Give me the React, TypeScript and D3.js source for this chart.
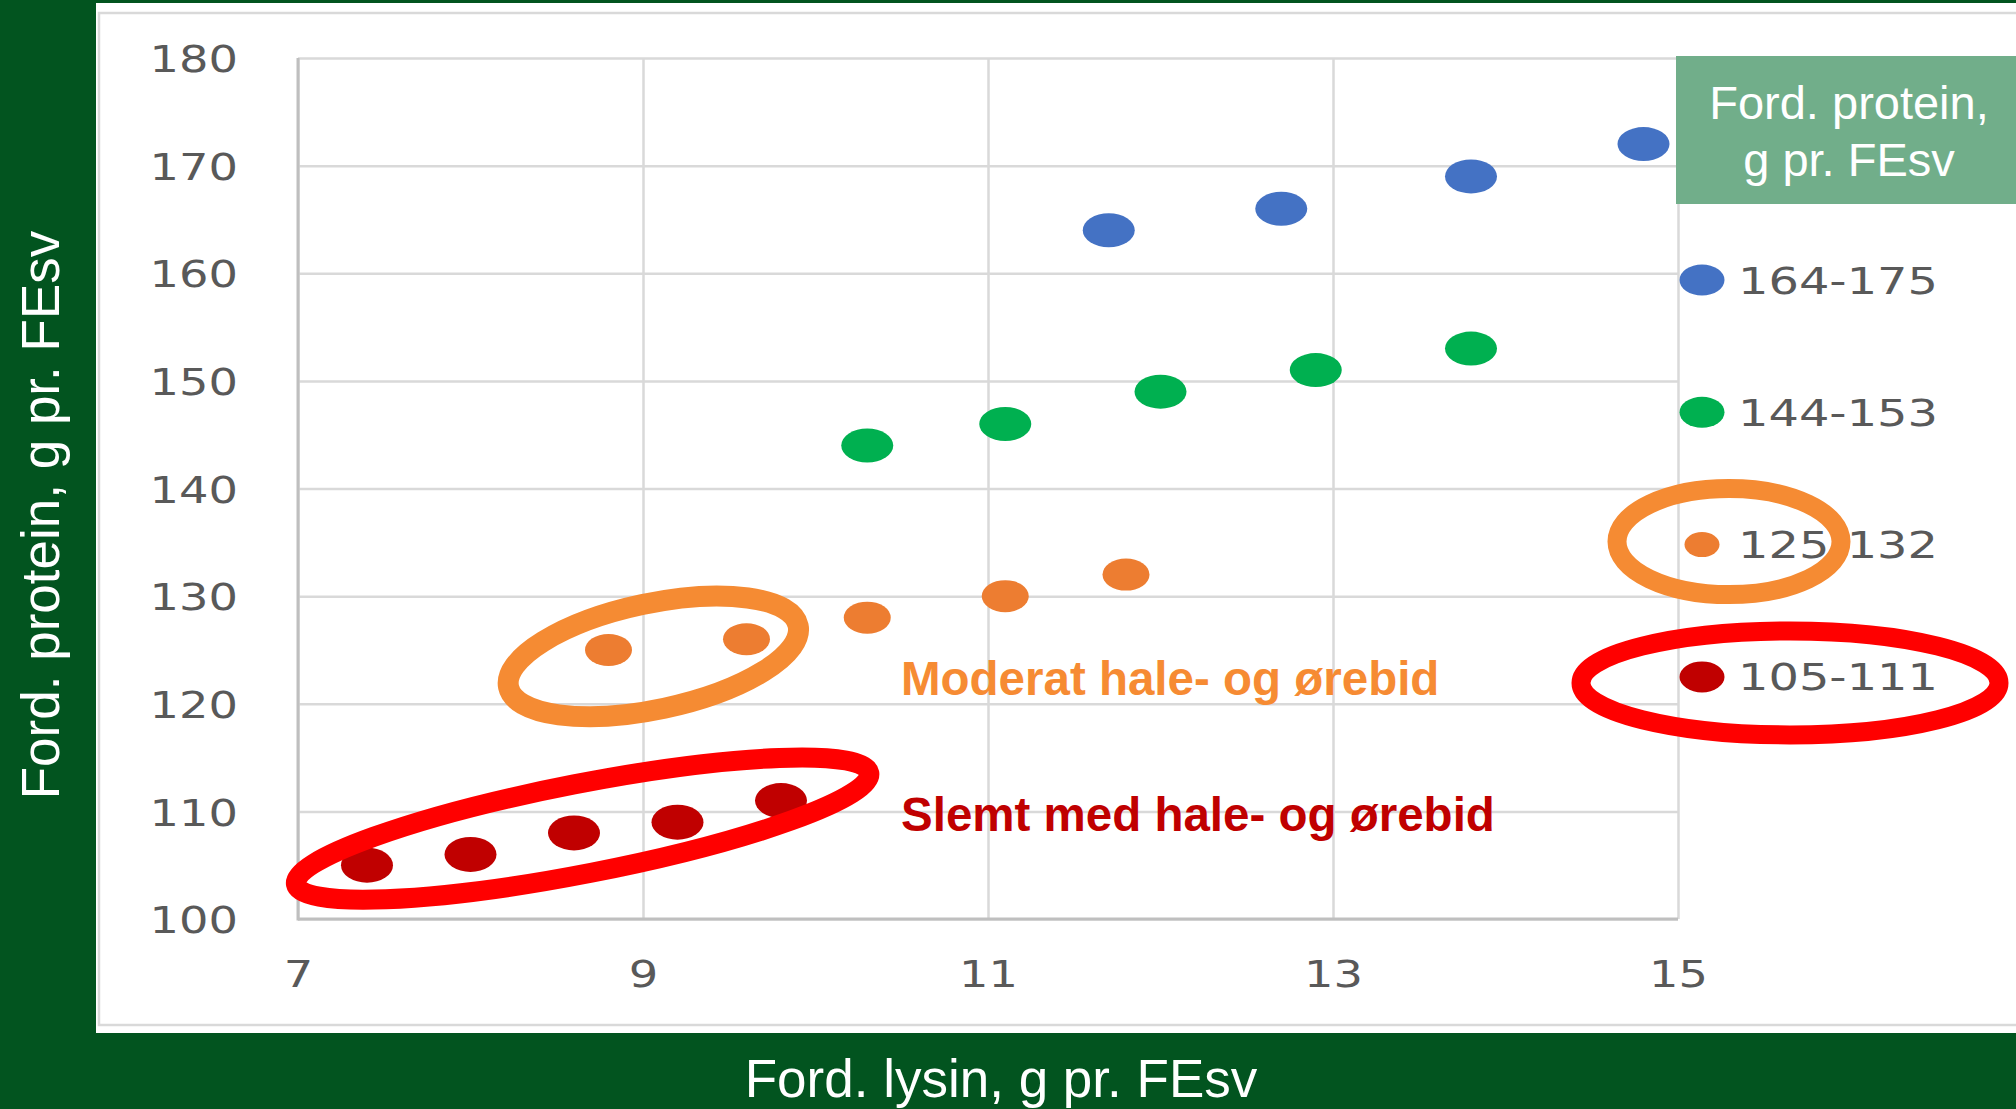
import React, { useRef, useEffect } from 'react';
import * as d3 from 'd3';

// data
const seriesLabels = ['164-175', '144-153', '125-132', '105-111'];
const seriesColors = ['#4472C4', '#00B050', '#ED7D31', '#C00000'];

const blueLysin = [11.7, 12.7, 13.8, 14.8];
const blueProtein = [164, 166, 169, 172];
const greenLysin = [10.3, 11.1, 12.0, 12.9, 13.8];
const greenProtein = [144, 146, 149, 151, 153];
const orangeLysin = [8.8, 9.6, 10.3, 11.1, 11.8];
const orangeProtein = [125, 126, 128, 130, 132];
const redLysin = [7.4, 8.0, 8.6, 9.2, 9.8];
const redProtein = [105, 106, 108, 109, 111];

const xTicks = [7, 9, 11, 13, 15];
const yTicks = [100, 110, 120, 130, 140, 150, 160, 170, 180];

const legendTitle = ['Ford. protein,', 'g pr. FEsv'];
const noteTexts = ['Moderat hale- og ørebid', 'Slemt med hale- og ørebid'];
// group ring centres, in data units (lysin, protein)
const ringLysin = [9.06, 8.65];
const ringProtein = [124.4, 108.4];

const W = 2016;
const H = 1109;
const GREEN = '#02541F';

const App: React.FC = () => {
  const svgRef = useRef<SVGSVGElement>(null);

  useEffect(() => {
    if (!svgRef.current) return;
    const svg = d3.select(svgRef.current);
    svg.selectAll('*').remove();

    const left = 298, right = 1678, top = 58, bottom = 919;
    const x = d3.scaleLinear().domain([7, 15]).range([left, right]);
    const y = d3.scaleLinear().domain([100, 180]).range([bottom, top]);

    // backgrounds
    svg.append('rect').attr('width', W).attr('height', H).attr('fill', GREEN);
    svg.append('rect').attr('x', 96).attr('y', 3).attr('width', W - 96).attr('height', 1030).attr('fill', '#fff');
    svg.append('rect').attr('x', 99).attr('y', 13).attr('width', W).attr('height', 1012)
      .attr('fill', 'none').attr('stroke', '#d9d9d9').attr('stroke-width', 2.5);

    const tickFont = (sel: any) => sel
      .attr('font-family', '"DejaVu Sans", Verdana, sans-serif')
      .attr('font-size', 38)
      .attr('fill', '#595959')
      .attr('lengthAdjust', 'spacingAndGlyphs')
      .attr('textLength', (d: number) => String(d).length * 29.5);

    // y axis + horizontal grid
    const yAxis = svg.append('g')
      .attr('transform', `translate(${left},0)`)
      .call(d3.axisLeft(y).tickValues(yTicks).tickSize(-(right - left)).tickPadding(60).tickFormat(d3.format('d')));
    yAxis.select('.domain').remove();
    yAxis.selectAll('line').attr('stroke', '#d9d9d9').attr('stroke-width', 2.5);
    yAxis.selectAll('text').attr('dy', '0.36em').call(tickFont);

    // x axis + vertical grid
    const xAxis = svg.append('g')
      .attr('transform', `translate(0,${bottom})`)
      .call(d3.axisBottom(x).tickValues(xTicks).tickSize(-(bottom - top)).tickPadding(41).tickFormat(d3.format('d')));
    xAxis.select('.domain').remove();
    xAxis.selectAll('line').attr('stroke', '#d9d9d9').attr('stroke-width', 2.5);
    xAxis.selectAll('text').call(tickFont);

    // axis lines
    svg.append('line').attr('x1', left).attr('x2', left).attr('y1', top).attr('y2', bottom + 1.5)
      .attr('stroke', '#bfbfbf').attr('stroke-width', 3);
    svg.append('line').attr('x1', left).attr('x2', right).attr('y1', bottom).attr('y2', bottom)
      .attr('stroke', '#bfbfbf').attr('stroke-width', 3);

    // points
    const series = [
      { xs: blueLysin, ys: blueProtein, rx: 26, ry: 17 },
      { xs: greenLysin, ys: greenProtein, rx: 26, ry: 17 },
      { xs: orangeLysin, ys: orangeProtein, rx: 23.5, ry: 16 },
      { xs: redLysin, ys: redProtein, rx: 26, ry: 17.5 },
    ];
    series.forEach((s, i) => {
      svg.append('g').selectAll('ellipse')
        .data(s.xs.map((v, j) => [v, s.ys[j]]))
        .enter().append('ellipse')
        .attr('cx', d => x(d[0]))
        .attr('cy', d => y(d[1]))
        .attr('rx', s.rx)
        .attr('ry', s.ry)
        .attr('fill', seriesColors[i]);
    });

    // group rings
    const rings = [
      { a: 148, b: 53, rot: -12, color: '#F58B33', w: 21 },
      { a: 292, b: 45, rot: -11, color: '#FF0000', w: 20 },
    ];
    rings.forEach((r, i) => {
      const cx = x(ringLysin[i]);
      const cy = y(ringProtein[i]);
      svg.append('ellipse')
        .attr('transform', `translate(${cx},${cy}) rotate(${r.rot})`)
        .attr('rx', r.a).attr('ry', r.b)
        .attr('fill', 'none').attr('stroke', r.color).attr('stroke-width', r.w);
    });

    // annotation texts
    const noteColors = ['#F68B33', '#C00000'];
    const noteBase = [695, 831];
    noteTexts.forEach((t, i) => {
      svg.append('text')
        .attr('x', 901).attr('y', noteBase[i])
        .attr('font-family', '"Liberation Sans", Arial, sans-serif')
        .attr('font-weight', 'bold')
        .attr('font-size', 47.5)
        .attr('fill', noteColors[i])
        .text(t);
    });

    // legend
    svg.append('rect').attr('x', 1676).attr('y', 56).attr('width', W - 1676).attr('height', 148).attr('fill', '#71AE8A');
    legendTitle.forEach((t, i) => {
      svg.append('text')
        .attr('x', 1849).attr('y', 119 + i * 57)
        .attr('text-anchor', 'middle')
        .attr('font-family', '"Liberation Sans", Arial, sans-serif')
        .attr('font-size', 47)
        .attr('fill', '#fff')
        .text(t);
    });
    const legY = (i: number) => 280 + i * 132.3;
    const legend = svg.append('g').selectAll('g')
      .data(seriesLabels)
      .enter().append('g')
      .attr('transform', (d, i) => `translate(1702,${legY(i)})`);
    legend.append('ellipse')
      .attr('rx', (d, i) => (i === 2 ? 17.5 : 22.5))
      .attr('ry', (d, i) => (i === 2 ? 12.5 : 15.5))
      .attr('fill', (d, i) => seriesColors[i]);
    legend.append('text')
      .attr('x', 36).attr('y', 13.5)
      .attr('font-family', '"DejaVu Sans", Verdana, sans-serif')
      .attr('font-size', 38)
      .attr('fill', '#595959')
      .attr('lengthAdjust', 'spacingAndGlyphs')
      .attr('textLength', 200)
      .text(d => d);

    // legend rings
    svg.append('ellipse').attr('cx', 1729).attr('cy', legY(2) - 3).attr('rx', 112).attr('ry', 53)
      .attr('fill', 'none').attr('stroke', '#F58B33').attr('stroke-width', 19);
    svg.append('ellipse').attr('cx', 1790).attr('cy', legY(3) + 6).attr('rx', 209).attr('ry', 52)
      .attr('fill', 'none').attr('stroke', '#FF0000').attr('stroke-width', 19);

    // axis titles
    svg.append('text')
      .attr('x', 1001).attr('y', 1097)
      .attr('text-anchor', 'middle')
      .attr('font-family', '"Liberation Sans", Arial, sans-serif')
      .attr('font-size', 53)
      .attr('fill', '#fff')
      .text('Ford. lysin, g pr. FEsv');
    svg.append('text')
      .attr('transform', 'translate(59,515) rotate(-90)')
      .attr('text-anchor', 'middle')
      .attr('font-family', '"Liberation Sans", Arial, sans-serif')
      .attr('font-size', 53)
      .attr('fill', '#fff')
      .text('Ford. protein, g pr. FEsv');
  }, []);

  return (
    <svg
      ref={svgRef}
      width={W}
      height={H}
      style={{ position: 'absolute', left: 0, top: 0, display: 'block' }}
    />
  );
};

export default App;
